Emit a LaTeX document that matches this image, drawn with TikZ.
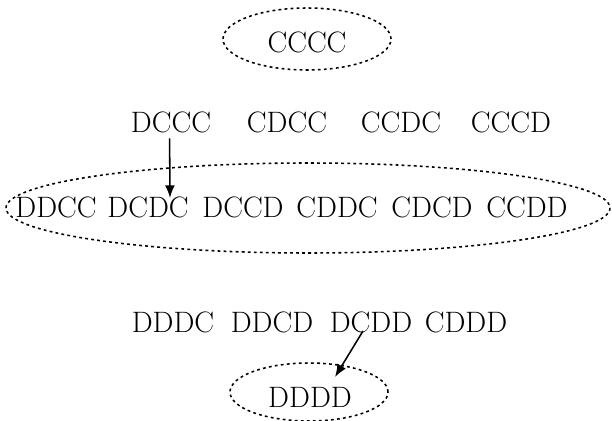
\documentclass[tikz,border=0pt]{standalone}
\usetikzlibrary{positioning,shapes.geometric,arrows.meta}

\begin{document}
\begin{tikzpicture}[x=0.025cm,y=-0.025cm,every node/.style={font=\fontsize{21}{25}\selectfont, inner sep=0pt},dotline/.style={line width=1.1pt, dash pattern=on 2pt off 2.3pt},ring/.style={draw, dotline, ellipse},arr/.style={line width=1.1pt,-{Latex[length=9pt,width=7pt]}}]
\useasboundingbox (0,0) rectangle (612,421);
% top
\node[ring, minimum width=168*0.025cm, minimum height=62*0.025cm] (top) at (307,39) {};
\node (cccc) at (307,42) {CCCC};
% one D
\node (dccc) at (171,122) {DCCC};
\node (cdcc) at (287,122) {CDCC};
\node (ccdc) at (401,122) {CCDC};
\node (cccd) at (511,122) {CCCD};
% two D
\draw[dotline] (308,208) ellipse (302 and 45);
\node (ddcc) at (56,207) {DDCC};
\node (dcdc) at (148,207) {DCDC};
\node (dccd) at (243,207) {DCCD};
\node (cddc) at (337,207) {CDDC};
\node (cdcd) at (432,207) {CDCD};
\node (ccdd) at (527,207) {CCDD};
% three D
\node (dddc) at (173,322) {DDDC};
\node (ddcd) at (272,322) {DDCD};
\node (dcdd) at (371,322) {DCDD};
\node (cddd) at (466,322) {CDDD};
% bottom
\node[ring, minimum width=158*0.025cm, minimum height=58*0.025cm] (bot) at (309,392) {};
\node (dddd) at (310,397) {DDDD};
\coordinate (a1) at (170,198);
\coordinate (b0) at (363,331);
\coordinate (b1) at (335,377);
\draw[arr] ([xshift=-1pt,yshift=-4pt]dccc.south) -- (a1);
\draw[arr] (b0) -- (b1);
\end{tikzpicture}
\end{document}
